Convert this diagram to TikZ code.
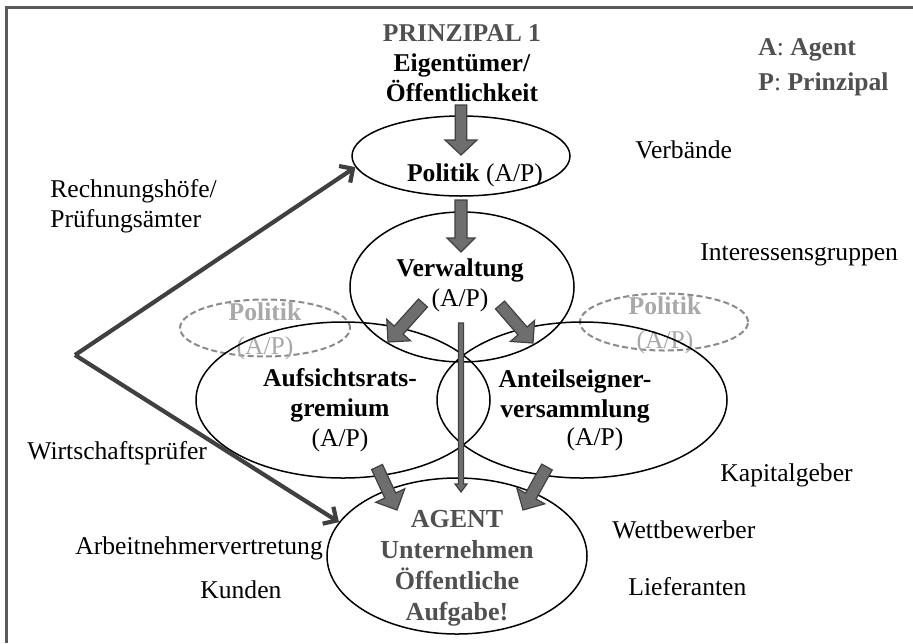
\documentclass[tikz,border=0pt]{standalone}
\usepackage{fontspec}
\setmainfont{Liberation Serif}
\usetikzlibrary{arrows.meta,calc,shapes.geometric}

\definecolor{rahmengrau}{HTML}{5A5A5A}
\definecolor{pfeilgrau}{HTML}{6E6E6E}
\definecolor{dunkelgrau}{HTML}{404040}
\definecolor{titelgrau}{HTML}{505050}
\definecolor{hellgrau}{HTML}{A8A8A8}
\definecolor{strichgrau}{HTML}{8A8A8A}

\tikzset{
  ell/.style={draw, ellipse, line width=0.75pt, inner sep=0pt},
  ellgestr/.style={draw=strichgrau, ellipse, dash pattern=on 3pt off 1.6pt, line width=1pt, inner sep=0pt},
  txt/.style={inner sep=0pt, font=\fontsize{12.8}{15}\selectfont},
  blockpf/.style={fill=pfeilgrau, draw=dunkelgrau, line width=0.6pt},
  dickpf/.style={draw=dunkelgrau, line width=2.1pt, -{Straight Barb[length=5pt,width=10pt]}},
}

% Blockpfeil: von, nach, halbe Schaftbreite, halbe Kopfbreite, Kopflaenge
\newcommand{\blockpfeil}[5]{%
  \coordinate (kb) at ($(#2)!#5!(#1)$);
  \filldraw[blockpf] ($(#1)!#3!90:(#2)$) -- ($(kb)!#3!90:(#2)$) -- ($(kb)!#4!90:(#2)$)
    -- (#2) -- ($(kb)!#4!-90:(#2)$) -- ($(kb)!#3!-90:(#2)$) -- ($(#1)!#3!-90:(#2)$) -- cycle;
}

\begin{document}
\begin{tikzpicture}[x=0.5pt, y=-0.5pt]
  \useasboundingbox (0,0) rectangle (913,643);

  % --- Rahmen (oben und links) ---
  \draw[rahmengrau, line width=1.5pt] (913,7) -- (6,7) -- (6,643);

  % --- gestrichelte Politik-Ellipsen ---
  \node[ellgestr, minimum width=85pt, minimum height=28.5pt] (polL) at (265,328) {};
  \node[ellgestr, minimum width=84pt, minimum height=28.5pt] (polR) at (664,322) {};
  \node[txt, hellgrau, align=center] (polLtxt) at (265,331)
    {\textbf{Politik}\\[2pt](A/P)};
  \node[txt, hellgrau, align=center] (polRtxt) at (665,325)
    {\textbf{Politik}\\[2pt](A/P)};

  % --- Ellipsen ---
  \node[ell, minimum width=109pt, minimum height=40pt] (politik) at (461,156) {};
  \node[ell, minimum width=112pt, minimum height=75pt] (verwaltung) at (462,287) {};
  \node[ell, minimum width=147pt, minimum height=78pt] (aufsicht) at (343,400) {};
  \node[ell, minimum width=145pt, minimum height=78pt] (anteil) at (582,400) {};
  \node[ell, minimum width=130pt, minimum height=78pt] (agent) at (457,556) {};

  % --- Texte in den Ellipsen ---
  \node[txt, align=center] (prinzipal) at (462,63)
    {\textcolor{titelgrau}{\textbf{PRINZIPAL 1}}\\\textbf{Eigentümer/}\\\textbf{Öffentlichkeit}};
  \node[txt] (politiktxt) at (475,175) {\textbf{Politik} (A/P)};
  \node[txt, align=center] (verwtxt) at (460,285) {\textbf{Verwaltung}\\(A/P)};
  \node[txt, align=center] (aufsichttxt) at (340,410)
    {\textbf{Aufsichtsrats-}\\\textbf{gremium}\\(A/P)};
  \node[txt, align=center] (anteiltxt) at (575,396)
    {\textbf{Anteilseigner-}\\\textbf{versammlung}};
  \node[txt] (anteilap) at (595,439) {(A/P)};
  \node[txt, titelgrau, align=center, font=\fontsize{13}{15.5}\selectfont\bfseries] (agenttxt) at (457,568)
    {AGENT\\Unternehmen\\Öffentliche\\Aufgabe!};

  % --- Legende ---
  \node[txt, titelgrau, align=left, anchor=west, font=\fontsize{12.8}{17.5}\selectfont] (legende) at (758,67)
    {\textbf{A}: \textbf{Agent}\\\textbf{P}: \textbf{Prinzipal}};

  % --- Umfeld ---
  \node[txt, align=left, anchor=west] (rechnung) at (50,206) {Rechnungshöfe/\\Prüfungsämter};
  \node[txt, anchor=west] (wp) at (27,453) {Wirtschaftsprüfer};
  \node[txt, anchor=west] (arbn) at (75,548) {Arbeitnehmervertretung};
  \node[txt, anchor=west] (kunden) at (200,590) {Kunden};
  \node[txt, anchor=west] (verbaende) at (635,150) {Verbände};
  \node[txt, anchor=west] (interessen) at (700,255) {Interessensgruppen};
  \node[txt, anchor=west] (kapital) at (720,475) {Kapitalgeber};
  \node[txt, anchor=west] (wettb) at (612,530) {Wettbewerber};
  \node[txt, anchor=west] (liefer) at (628,587) {Lieferanten};

  % --- Blockpfeile ---
  \coordinate (pA1) at (461,105); \coordinate (pA2) at (461,155);
  \coordinate (pB1) at (461,200); \coordinate (pB2) at (461,252);
  \coordinate (pC1) at (423,303); \coordinate (pC2) at (388,342);
  \coordinate (pD1) at (500,305); \coordinate (pD2) at (533,343);
  \coordinate (pE1) at (377,467); \coordinate (pE2) at (397,510);
  \coordinate (pF1) at (547,467); \coordinate (pF2) at (523,510);
  \coordinate (pG1) at (461,323); \coordinate (pG2) at (461,492);
  \blockpfeil{pA1}{pA2}{2.9pt}{8pt}{7.5pt}
  \blockpfeil{pB1}{pB2}{3pt}{7pt}{7pt}
  \blockpfeil{pC1}{pC2}{3pt}{8pt}{8pt}
  \blockpfeil{pD1}{pD2}{3pt}{8pt}{8pt}
  \blockpfeil{pE1}{pE2}{3pt}{8pt}{8pt}
  \blockpfeil{pF1}{pF2}{3pt}{8pt}{8pt}
  \blockpfeil{pG1}{pG2}{1.3pt}{3pt}{4pt}

  % --- Pruefer-Pfeile ---
  \coordinate (pruef) at (75,355);
  \draw[dickpf] (pruef) -- (politik.186);
  \draw[dickpf] (pruef) -- (agent.164);

\end{tikzpicture}
\end{document}
